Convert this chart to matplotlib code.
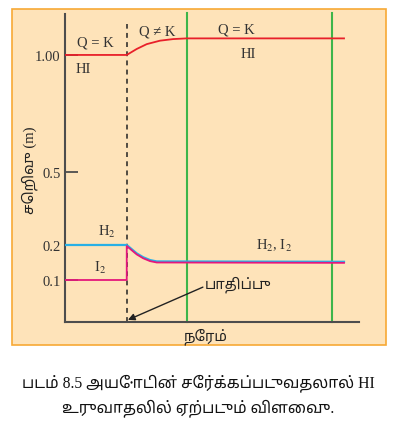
import numpy as np
import matplotlib
matplotlib.use('Agg')
from matplotlib import pyplot as plt
from matplotlib.patches import Rectangle

# Data (schematic, arbitrary time units)
time_hi = [0, 2.1, 2.44, 2.78, 3.23, 3.68, 4.14, 9.49]
conc_hi = [1.0, 1.0, 1.026, 1.047, 1.062, 1.069, 1.072, 1.072]

time_h2 = [0, 2.1, 2.44, 2.66, 2.89, 3.12, 9.49]
conc_h2 = [0.2, 0.2, 0.176, 0.165, 0.157, 0.153, 0.152]

time_i2 = [0, 2.1, 2.1, 2.44, 2.66, 2.89, 3.12, 9.49]
conc_i2 = [0.1, 0.1, 0.197, 0.173, 0.162, 0.154, 0.150, 0.149]

t_disturb = 2.1
t_equil = [4.15, 9.08]

yticks = [0.1, 0.2, 0.5, 1.0]
yticklabels = ['0.1', '0.2', '0.5', '1.00']

# the y axis of the drawing is not linear, so use a piecewise scale
knots_v = [0, 0.1, 0.2, 0.5, 1.0, 1.2]
knots_h = [0, 42, 77, 150, 267, 313]

def fwd(v):
    return np.interp(v, knots_v, knots_h)

def inv(h):
    return np.interp(h, knots_h, knots_v)

plt.rcParams['mathtext.fontset'] = 'stix'
serif = ['Liberation Serif', 'DejaVu Sans']
tamil = ['Liberation Serif', 'Noto Sans Tamil', 'DejaVu Sans']

W, H = 395, 427
fig = plt.figure(figsize=(W / 100, H / 100), dpi=100)
fig.patch.set_facecolor('white')

# orange panel behind the plot
fig.patches.append(Rectangle((12 / W, 1 - 346 / H), 374 / W, 336 / H, transform=fig.transFigure,
                             facecolor='#FEE3B9', edgecolor='#F7A935', lw=1.2, zorder=-5))

ax = fig.add_axes([65 / W, 1 - 323 / H, 294 / W, 308 / H])
ax.set_zorder(2)
ax.set_facecolor('none')
ax.set_yscale('function', functions=(fwd, inv))
ax.set_xlim(0, 10)
ax.set_ylim(0, 1.178)

for s in ['top', 'right']:
    ax.spines[s].set_visible(False)
for s in ['left', 'bottom']:
    ax.spines[s].set_color('#4D4D4D')
    ax.spines[s].set_linewidth(1.5)

ax.set_xticks([])
ax.set_yticks(yticks)
ax.set_yticklabels(yticklabels, family=serif, fontsize=10.5, color='#333333')
ax.tick_params(axis='y', direction='in', length=9, width=1.3, color='#4D4D4D', pad=3)
ax.yaxis.set_minor_locator(matplotlib.ticker.NullLocator())

# equilibrium lines and disturbance marker
for t in t_equil:
    ax.axvline(t, ymin=0, ymax=1.003, color='#3DB54A', lw=1.5, clip_on=False, zorder=1)
ax.plot([t_disturb, t_disturb], [0, 1.135], color='#222222', lw=1.1, dashes=(3.2, 2.8), zorder=2)

# concentration curves
ax.plot(time_hi, conc_hi, color='#E8202A', lw=1.3, solid_joinstyle='round', zorder=3)
ax.plot(time_h2, conc_h2, color='#29B0E6', lw=1.6, solid_joinstyle='round', zorder=3)
ax.plot(time_i2, conc_i2, color='#E5177B', lw=1.3, solid_joinstyle='round', zorder=4)

txt = dict(family=serif, fontsize=10.5, color='#333333', ha='center', va='center')
ax.text(1.02, 1.055, 'Q = K', **txt)
ax.text(0.63, 0.944, 'HI', **txt)
ax.text(3.15, 1.105, 'Q \u2260 K', **txt)
ax.text(5.84, 1.113, 'Q = K', **txt)
ax.text(6.25, 1.007, 'HI', **txt)
ax.text(1.43, 0.2575, r'H$_2$', **txt)
ax.text(1.19, 0.136, r'I$_2$', **txt)
ax.text(7.11, 0.201, r'H$_2$, I$_2$', **txt)

ax.text(5.88, 0.0905, 'பாதிப்பு', family=tamil, fontsize=10.5, color='#222222',
        ha='center', va='center')
ax.annotate('', xy=(2.14, 0.005), xytext=(4.69, 0.083),
            arrowprops=dict(arrowstyle='-|>', color='#222222', lw=1.0,
                            mutation_scale=10, shrinkA=0, shrinkB=0))

fig.text(30 / W, 1 - 170 / H, 'செறிவு (m)', family=tamil, fontsize=10.5, rotation=90,
         ha='center', va='center', color='#222222')
fig.text(205 / W, 1 - 337 / H, 'நேரம்', family=tamil, fontsize=10.5,
         ha='center', va='center', color='#222222')

fig.text(198 / W, 1 - 383 / H, 'படம் 8.5 அயோடின் சேர்க்கப்படுவதலால் HI', family=tamil,
         fontsize=11.3, ha='center', va='center', color='#111111')
fig.text(198 / W, 1 - 408 / H, 'உருவாதலில் ஏற்படும் விளைவு.', family=tamil,
         fontsize=11.3, ha='center', va='center', color='#111111')

fig.savefig('out.png', dpi=100, facecolor='white')
